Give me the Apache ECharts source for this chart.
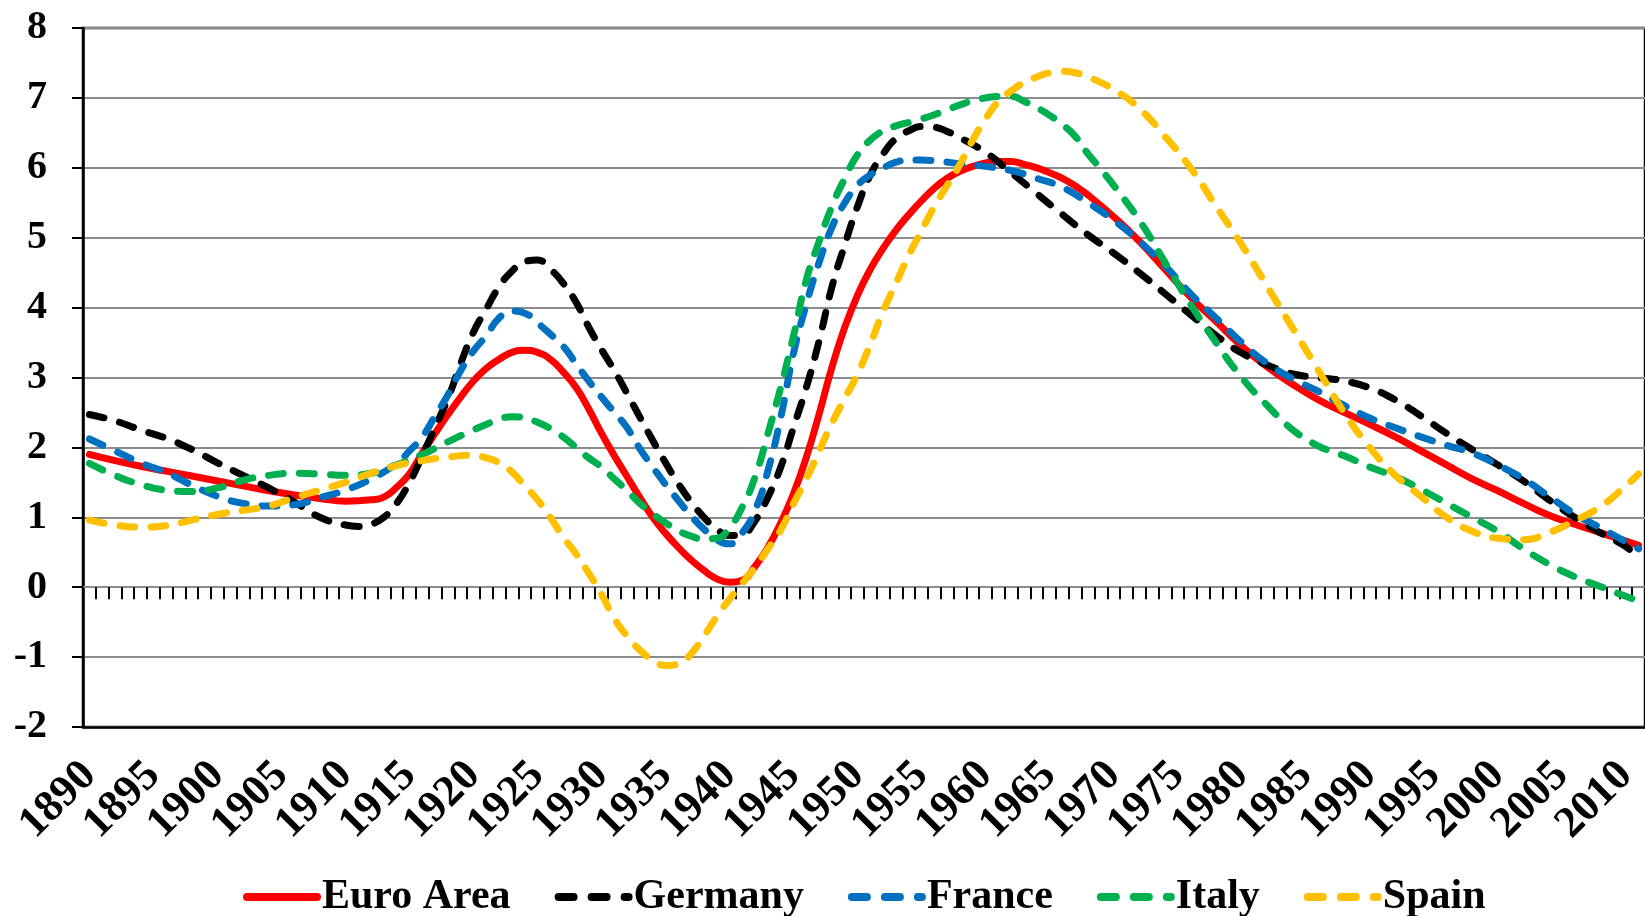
<!DOCTYPE html>
<html>
<head>
<meta charset="utf-8">
<script src="https://cdn.jsdelivr.net/npm/echarts@6/dist/echarts.min.js"></script>
<style>
html,body{margin:0;padding:0;background:#fff;}
#chart{width:1645px;height:916px;}
</style>
</head>
<body>
<div id="chart"></div>
<script>
// Categories: years 1890..2011
const firstYear = 1890, lastYear = 2011;
const years = [];
for (let y = firstYear; y <= lastYear; y++) years.push(String(y));

const seriesNames = ['Euro Area', 'Germany', 'France', 'Italy', 'Spain'];
const seriesColors = ['#FF0000', '#000000', '#0070C0', '#00B050', '#FFC000'];

// [year, value] pairs
const euroArea = [
 [1890,1.90],[1892,1.81],[1894,1.73],[1896,1.66],[1898,1.59],[1900,1.52],[1902,1.45],[1904,1.38],
 [1906,1.32],[1908,1.27],[1910,1.23],[1912,1.25],[1913,1.29],[1914,1.43],[1915,1.62],[1916,1.92],
 [1917,2.20],[1918,2.47],[1919,2.72],[1920,2.95],[1921,3.13],[1922,3.26],[1923,3.36],[1924,3.39],
 [1925,3.36],[1926,3.26],[1927,3.08],[1928,2.86],[1929,2.55],[1930,2.20],[1931,1.88],[1932,1.58],
 [1933,1.28],[1934,1.00],[1935,0.77],[1936,0.57],[1937,0.39],[1938,0.24],[1939,0.12],[1940,0.07],
 [1941,0.10],[1942,0.30],[1943,0.57],[1944,0.92],[1945,1.34],[1946,1.86],[1947,2.48],[1948,3.15],
 [1949,3.72],[1950,4.18],[1951,4.55],[1952,4.85],[1953,5.11],[1954,5.33],[1955,5.53],[1956,5.71],
 [1957,5.85],[1958,5.95],[1959,6.02],[1960,6.07],[1961,6.09],[1962,6.09],[1963,6.05],[1964,6.00],
 [1965,5.93],[1966,5.85],[1967,5.74],[1968,5.61],[1970,5.30],[1972,4.95],[1974,4.55],[1976,4.15],
 [1978,3.80],[1980,3.45],[1982,3.15],[1984,2.90],[1986,2.68],[1988,2.50],[1990,2.33],[1992,2.15],
 [1994,1.95],[1996,1.75],[1998,1.55],[2000,1.38],[2002,1.20],[2004,1.03],[2006,0.90],[2008,0.78],
 [2010,0.66],[2011,0.60]
];
const germany = [
 [1890,2.47],[1892,2.38],[1894,2.25],[1896,2.13],[1898,1.97],[1900,1.78],[1902,1.60],[1904,1.42],
 [1906,1.22],[1908,1.00],[1910,0.89],[1911,0.87],[1912,0.90],[1913,1.00],[1914,1.20],[1915,1.50],
 [1916,1.88],[1917,2.29],[1918,2.70],[1919,3.20],[1920,3.65],[1921,3.98],[1922,4.30],[1923,4.52],
 [1924,4.66],[1925,4.68],[1926,4.55],[1927,4.35],[1928,4.08],[1929,3.72],[1930,3.40],[1931,3.10],
 [1932,2.77],[1933,2.43],[1934,2.10],[1935,1.78],[1936,1.48],[1937,1.22],[1938,1.00],[1939,0.83],
 [1940,0.74],[1941,0.76],[1942,0.95],[1943,1.29],[1944,1.72],[1945,2.29],[1946,2.86],[1947,3.53],
 [1948,4.30],[1949,4.90],[1950,5.45],[1951,5.90],[1952,6.20],[1953,6.42],[1954,6.53],[1955,6.59],
 [1956,6.58],[1957,6.52],[1958,6.43],[1960,6.22],[1962,5.93],[1964,5.63],[1966,5.33],[1968,5.04],
 [1970,4.78],[1972,4.50],[1974,4.20],[1976,3.90],[1978,3.60],[1980,3.35],[1982,3.18],[1984,3.05],
 [1986,3.00],[1988,2.95],[1990,2.85],[1992,2.68],[1994,2.45],[1996,2.20],[1998,1.97],[2000,1.75],
 [2002,1.52],[2004,1.25],[2006,1.00],[2008,0.78],[2010,0.58],[2011,0.42]
];
const france = [
 [1890,2.12],[1892,1.95],[1894,1.78],[1896,1.64],[1898,1.46],[1900,1.30],[1902,1.20],[1904,1.16],
 [1906,1.18],[1908,1.28],[1910,1.39],[1912,1.55],[1914,1.77],[1915,1.95],[1916,2.15],[1917,2.45],
 [1918,2.75],[1919,3.10],[1920,3.38],[1921,3.60],[1922,3.85],[1923,3.95],[1924,3.92],[1925,3.78],
 [1926,3.62],[1927,3.45],[1928,3.20],[1929,2.95],[1930,2.72],[1931,2.50],[1932,2.28],[1933,1.98],
 [1934,1.72],[1935,1.47],[1936,1.24],[1937,1.02],[1938,0.83],[1939,0.68],[1940,0.62],[1941,0.78],
 [1942,1.10],[1943,1.67],[1944,2.43],[1945,3.35],[1946,4.05],[1947,4.65],[1948,5.15],[1949,5.50],
 [1950,5.75],[1951,5.90],[1952,6.00],[1953,6.08],[1954,6.11],[1955,6.11],[1956,6.10],[1958,6.06],
 [1960,6.02],[1962,5.96],[1964,5.85],[1966,5.72],[1968,5.50],[1970,5.25],[1972,4.95],[1974,4.60],
 [1976,4.20],[1978,3.85],[1980,3.50],[1982,3.20],[1984,2.98],[1986,2.80],[1988,2.60],[1990,2.42],
 [1992,2.28],[1994,2.15],[1996,2.03],[1998,1.92],[2000,1.75],[2002,1.55],[2004,1.30],[2006,1.05],
 [2008,0.85],[2010,0.65],[2011,0.55]
];
const italy = [
 [1890,1.77],[1892,1.60],[1894,1.47],[1896,1.39],[1898,1.37],[1900,1.42],[1902,1.53],[1904,1.60],
 [1906,1.63],[1908,1.62],[1910,1.60],[1912,1.63],[1914,1.75],[1916,1.90],[1918,2.08],[1920,2.25],
 [1922,2.40],[1923,2.44],[1924,2.42],[1925,2.36],[1926,2.27],[1927,2.15],[1928,2.00],[1929,1.85],
 [1930,1.72],[1931,1.55],[1932,1.38],[1933,1.20],[1934,1.05],[1935,0.92],[1936,0.81],[1937,0.73],
 [1938,0.69],[1939,0.70],[1940,0.85],[1941,1.15],[1942,1.58],[1943,2.20],[1944,2.86],[1945,3.60],
 [1946,4.40],[1947,4.95],[1948,5.45],[1949,5.85],[1950,6.19],[1951,6.40],[1952,6.53],[1953,6.60],
 [1954,6.65],[1955,6.70],[1956,6.76],[1957,6.83],[1958,6.90],[1959,6.96],[1960,7.00],[1961,7.02],
 [1962,7.02],[1963,6.95],[1964,6.86],[1965,6.75],[1966,6.62],[1967,6.45],[1968,6.20],[1969,5.98],
 [1970,5.75],[1972,5.25],[1974,4.65],[1976,4.05],[1978,3.50],[1980,3.00],[1982,2.60],[1984,2.25],
 [1986,2.02],[1988,1.88],[1990,1.72],[1992,1.58],[1994,1.40],[1996,1.20],[1998,1.00],[2000,0.80],
 [2002,0.55],[2004,0.33],[2006,0.15],[2008,0.01],[2010,-0.13],[2011,-0.20]
];
const spain = [
 [1890,0.96],[1892,0.89],[1894,0.86],[1896,0.88],[1898,0.96],[1900,1.04],[1902,1.10],[1904,1.16],
 [1906,1.28],[1908,1.39],[1910,1.50],[1912,1.63],[1914,1.74],[1916,1.81],[1918,1.86],[1920,1.89],
 [1921,1.85],[1922,1.78],[1923,1.65],[1924,1.45],[1925,1.25],[1926,1.00],[1927,0.72],[1928,0.48],
 [1929,0.20],[1930,-0.10],[1931,-0.45],[1932,-0.70],[1933,-0.90],[1934,-1.04],[1935,-1.12],
 [1936,-1.10],[1937,-0.95],[1938,-0.70],[1939,-0.42],[1940,-0.17],[1941,0.06],[1942,0.29],
 [1943,0.55],[1944,0.82],[1945,1.20],[1946,1.55],[1947,1.95],[1948,2.35],[1949,2.70],[1950,3.05],
 [1951,3.48],[1952,3.95],[1953,4.35],[1954,4.75],[1955,5.10],[1956,5.45],[1957,5.75],[1958,6.05],
 [1959,6.40],[1960,6.70],[1961,6.95],[1962,7.10],[1963,7.22],[1964,7.30],[1965,7.36],[1966,7.38],
 [1967,7.36],[1968,7.30],[1970,7.12],[1972,6.85],[1974,6.45],[1976,6.00],[1978,5.45],[1980,4.90],
 [1982,4.30],[1984,3.70],[1986,3.10],[1988,2.50],[1990,2.00],[1992,1.60],[1994,1.30],[1996,1.00],
 [1998,0.80],[2000,0.70],[2002,0.68],[2004,0.78],[2006,0.95],[2008,1.15],[2010,1.45],[2011,1.62]
];

const yTicks = { min: -2, max: 8, interval: 1 };
const seriesData = [euroArea, germany, france, italy, spain];

const FONT = 'Liberation Serif';
const chart = echarts.init(document.getElementById('chart'), null, { renderer: 'canvas' });

const series = seriesNames.map((name, i) => ({
  name: name,
  type: 'line',
  xAxisIndex: 0,
  yAxisIndex: 0,
  smooth: 0.5,
  symbol: 'none',
  data: seriesData[i].map(p => [String(p[0]), p[1]]),
  itemStyle: { color: seriesColors[i] },
  lineStyle: {
    color: seriesColors[i],
    width: 7,
    cap: 'round',
    join: 'round',
    type: i === 0 ? 'solid' : [15, 16]
  },
  z: 2 + i
}));

const legendData = seriesNames.map((name, i) => ({
  name: name,
  lineStyle: { width: 8, cap: 'round', type: i === 0 ? 'solid' : [15, 18] }
}));

chart.setOption({
  animation: false,
  backgroundColor: '#ffffff',
  grid: {
    left: 83, top: 28, right: -2, bottom: 189,
    show: true, borderColor: '#000', borderWidth: 2.5, backgroundColor: 'transparent'
  },
  legend: {
    data: legendData,
    left: 243, top: 876, padding: 0,
    itemWidth: 70, itemHeight: 14, itemGap: 44,
    textStyle: { fontFamily: FONT, fontWeight: 'bold', fontSize: 42, color: '#000', lineHeight: 42 },
    lineStyle: { width: 8, cap: 'round' },
    itemStyle: { opacity: 0 }
  },
  xAxis: [
    {
      type: 'category', data: years, boundaryGap: true, position: 'bottom',
      axisLine: { show: true, onZero: false, lineStyle: { color: '#000', width: 2.5 } },
      axisTick: { show: false },
      axisLabel: {
        interval: 4, rotate: 45, margin: 42,
        fontFamily: FONT, fontWeight: 'bold', fontSize: 44, color: '#000'
      },
      splitLine: { show: false }
    },
    {
      type: 'category', data: years, boundaryGap: true, position: 'top',
      axisLine: { show: true, onZero: true, lineStyle: { color: '#8c8c8c', width: 2 } },
      axisTick: { show: true, inside: true, interval: 0, length: 12, lineStyle: { color: '#000', width: 2 } },
      axisLabel: { show: false },
      splitLine: { show: false }
    }
  ],
  yAxis: {
    type: 'value', min: yTicks.min, max: yTicks.max, interval: yTicks.interval,
    axisLine: { show: true, lineStyle: { color: '#000', width: 2.5 } },
    axisTick: { show: true, length: 11, lineStyle: { color: '#000', width: 2 } },
    axisLabel: { margin: 36, fontFamily: FONT, fontWeight: 'bold', fontSize: 40, color: '#000' },
    splitLine: { show: true, lineStyle: { color: '#8c8c8c', width: 2 } }
  },
  series: series
});
</script>
</body>
</html>
